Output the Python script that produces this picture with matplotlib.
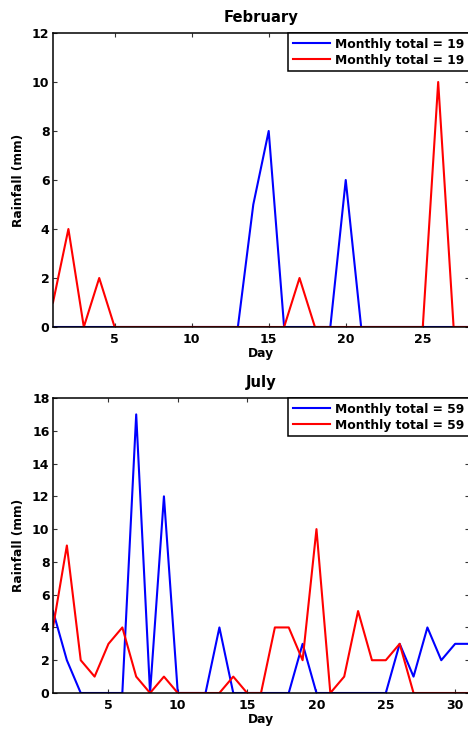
import matplotlib
matplotlib.use("Agg")
import matplotlib.pyplot as plt

feb_days = list(range(1, 29))
feb_blue = [0,0,0,0,0,0,0,0,0,0,0,0,0,5,8,0,0,0,0,6,0,0,0,0,0,0,0,0]
feb_red  = [1,4,0,2,0,0,0,0,0,0,0,0,0,0,0,0,2,0,0,0,0,0,0,0,0,10,0,0]

jul_days = list(range(1, 32))
jul_blue = [5,2,0,0,0,0,17,0,12,0,0,0,4,0,0,0,0,0,3,0,0,0,0,0,0,3,1,4,2,3,3]
jul_red  = [4,9,2,1,3,4,1,0,1,0,0,0,0,1,0,0,4,4,2,10,0,1,5,2,2,3,0,0,0,0,0]

feb_xticks = [5, 10, 15, 20, 25]
jul_xticks = [5, 10, 15, 20, 25, 30]
feb_yticks = list(range(0, 13, 2))
jul_yticks = list(range(0, 19, 2))

plt.rcParams['font.family'] = ['DejaVu Sans']
plt.rcParams['font.weight'] = 'bold'

W, H = 468, 729
fig = plt.figure(figsize=(W/100, H/100), dpi=100)

def make_ax(top_px, bot_px):
    left = 53 / W
    right = 469 / W
    return fig.add_axes([left, 1 - bot_px / H, right - left, (bot_px - top_px) / H])

def style(ax, title, days, blue, red, xticks, yticks, ymax):
    ax.plot(days, blue, color='#0000ff', lw=1.5, label=f'Monthly total = {sum(blue)}')
    ax.plot(days, red, color='#ff0000', lw=1.5, label=f'Monthly total = {sum(red)}')
    ax.set_xlim(days[0], days[-1])
    ax.set_ylim(0, ymax)
    ax.set_xticks(xticks)
    ax.set_yticks(yticks)
    ax.tick_params(direction='in', top=True, right=True, length=3, width=0.8,
                   labelsize=9, color='#333333')
    ax.tick_params(axis='x', pad=4.5)
    ax.tick_params(axis='y', pad=2.5)
    for lab in ax.get_xticklabels() + ax.get_yticklabels():
        lab.set_fontweight('bold')
    for s in ax.spines.values():
        s.set_linewidth(1.1)
    ax.set_title(title, fontsize=10.6, fontweight='bold', pad=8)
    ax.set_xlabel('Day', fontsize=8.8, fontweight='bold', labelpad=0.5)
    ax.set_ylabel('Rainfall (mm)', fontsize=8.8, fontweight='bold', labelpad=5)
    leg = ax.legend(loc='upper right', borderaxespad=0, fancybox=False,
                    framealpha=1, edgecolor='black',
                    handlelength=3.05, handletextpad=0.38, borderpad=0.38,
                    labelspacing=0.23, prop={'weight': 'bold', 'size': 8.9})
    leg.get_frame().set_linewidth(1.1)

ax1 = make_ax(33, 327)
style(ax1, 'February', feb_days, feb_blue, feb_red, feb_xticks, feb_yticks, 12)
ax2 = make_ax(398, 693)
style(ax2, 'July', jul_days, jul_blue, jul_red, jul_xticks, jul_yticks, 18)

fig.savefig('out.png', dpi=100)
